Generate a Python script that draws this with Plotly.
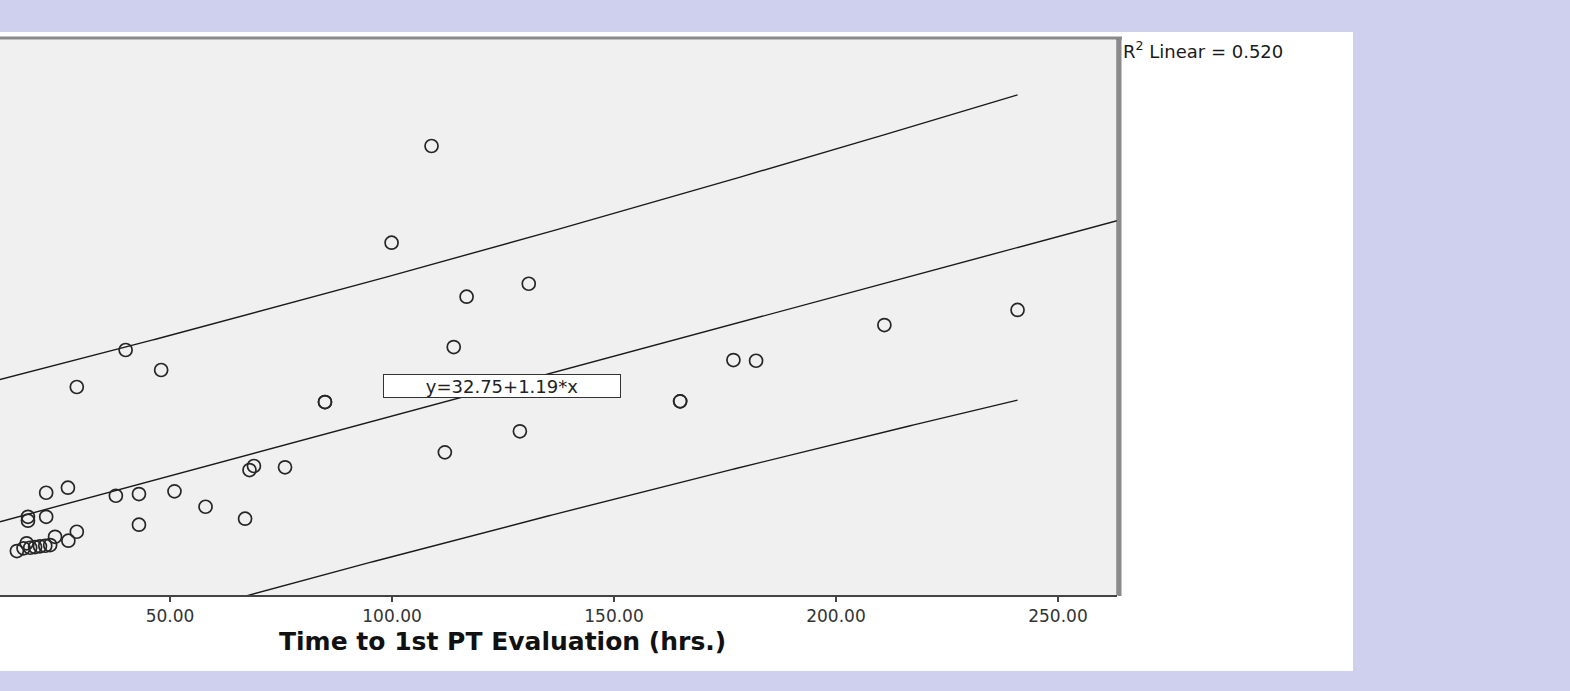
import numpy as np
import plotly.graph_objects as go

# ---- data ----
time_to_pt_eval = [108.9, 99.9, 116.8, 130.8, 210.9, 240.9, 40.0, 48.0, 29.0, 113.9,
                   176.9, 182.0, 84.9, 84.9, 164.9, 164.9, 128.8, 111.9, 75.9, 68.9,
                   67.9, 22.1, 27.0, 37.8, 43.0, 51.0, 58.0, 66.9, 43.0, 18.0,
                   18.0, 22.1, 29.0, 24.1, 27.1, 17.7, 15.5, 17.0, 18.5, 19.6,
                   20.7, 21.9, 23.0]
outcome_value = [420.4, 324.2, 270.5, 283.4, 242.3, 257.3, 217.5, 197.6, 180.7, 220.4,
                 207.5, 206.8, 165.7, 165.7, 166.4, 166.4, 136.6, 115.7, 100.8, 102.1,
                 98.1, 75.5, 80.5, 72.5, 74.2, 76.9, 61.6, 49.7, 43.7, 51.6,
                 47.7, 51.6, 36.7, 31.7, 27.8, 25.2, 17.5, 20.2, 20.8, 21.5,
                 22.2, 22.8, 23.5]

fit_intercept = 32.75
fit_slope = 1.19
r2_linear = 0.520
# prediction-interval band parameters
pi_t_s = 139.5
pi_x_mean = 75.0
pi_sxx = 150000.0

x_axis_range = [11.7, 263.3]
y_axis_range = [-26.2, 528.8]
x_tick_values = [50, 100, 150, 200, 250]

# ---- derived lines ----
x_fit = np.linspace(x_axis_range[0], x_axis_range[1], 200)
y_fit = fit_intercept + fit_slope * x_fit
x_pi = np.linspace(0, max(time_to_pt_eval), 300)
y_pi_mid = fit_intercept + fit_slope * x_pi
half = pi_t_s * np.sqrt(1 + (x_pi - pi_x_mean) ** 2 / pi_sxx)
y_upper = y_pi_mid + half
y_lower = y_pi_mid - half

fig = go.Figure()
line_style = dict(color="#1a1a1a", width=1.4)
fig.add_trace(go.Scatter(x=x_pi, y=y_upper, mode="lines", line=line_style, hoverinfo="skip"))
fig.add_trace(go.Scatter(x=x_pi, y=y_lower, mode="lines", line=line_style, hoverinfo="skip"))
fig.add_trace(go.Scatter(x=x_fit, y=y_fit, mode="lines", line=line_style, hoverinfo="skip"))
fig.add_trace(go.Scatter(
    x=time_to_pt_eval, y=outcome_value, mode="markers",
    marker=dict(symbol="circle-open", size=13, color="#262626", line=dict(width=1.7, color="#262626")),
))

W, H = 1570, 691
L, R, T, B = 0, 1117, 37, 595  # plot area pixels
pw, ph = R - L, B - T

def px(xp):
    return (xp - L) / pw

def py(yp):
    return (B - yp) / ph

shapes = [
    # white panel
    dict(type="rect", xref="paper", yref="paper", x0=px(0), x1=px(1353), y0=py(671), y1=py(32),
         fillcolor="#ffffff", line=dict(width=0), layer="below"),
    # plot area
    dict(type="rect", xref="paper", yref="paper", x0=0, x1=1, y0=0, y1=1,
         fillcolor="#f0f0f0", line=dict(width=0), layer="below"),
    # top border
    dict(type="line", xref="paper", yref="paper", x0=0, x1=px(1122), y0=py(38), y1=py(38),
         line=dict(color="#8a8a8a", width=3)),
    # right border
    dict(type="line", xref="paper", yref="paper", x0=px(1119.5), x1=px(1119.5), y0=py(596), y1=py(37),
         line=dict(color="#8a8a8a", width=4)),
    dict(type="line", xref="paper", yref="paper", x0=px(1117), x1=px(1117), y0=py(595), y1=py(39),
         line=dict(color="#555555", width=1)),
]

annotations = [
    dict(text="y=32.75+1.19*x", xref="paper", yref="paper", x=px(502), y=py(386),
         xanchor="center", yanchor="middle", showarrow=False,
         font=dict(family="DejaVu Sans", size=18, color="#222222"),
         bgcolor="#ffffff", bordercolor="#333333", borderwidth=1, borderpad=0,
         width=236, height=22),
    dict(text=f"R<sup>2</sup> Linear = {r2_linear:.3f}", xref="paper", yref="paper",
         x=px(1121), y=py(50), xanchor="left", yanchor="middle", showarrow=False,
         font=dict(family="DejaVu Sans", size=18, color="#1a1a1a")),
    dict(text="<b>Time to 1st PT Evaluation (hrs.)</b>", xref="paper", yref="paper",
         x=px(502), y=py(641), xanchor="center", yanchor="middle", showarrow=False,
         font=dict(family="DejaVu Sans", size=25, color="#111111")),
]

fig.update_layout(
    width=W, height=H, autosize=False,
    margin=dict(l=L, r=W - R, t=T, b=H - B, pad=0),
    paper_bgcolor="#cfd0ee",
    plot_bgcolor="#f0f0f0",
    showlegend=False,
    shapes=shapes,
    annotations=annotations,
    xaxis=dict(range=x_axis_range, tickvals=x_tick_values, tickformat=".2f",
               ticks="outside", ticklen=5, tickwidth=1.5, tickcolor="#444444",
               showline=True, linecolor="#444444", linewidth=1.5,
               showgrid=False, zeroline=False,
               tickfont=dict(family="DejaVu Sans", size=17, color="#333333")),
    yaxis=dict(range=y_axis_range, visible=False, showgrid=False, zeroline=False),
)

fig.write_html(
    "out.html",
    config={"displayModeBar": False},
    post_script="document.body.style.margin='0px';document.body.style.background='#cfd0ee';",
)
